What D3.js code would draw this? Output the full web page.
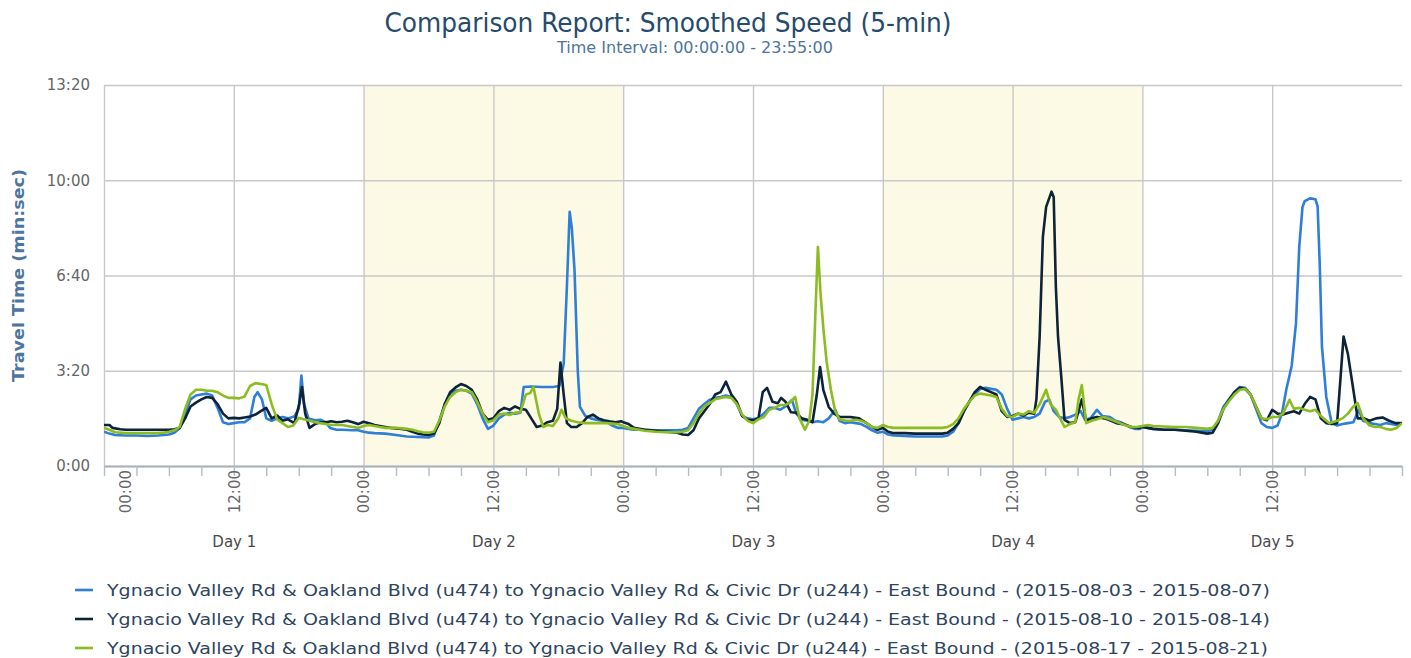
<!DOCTYPE html>
<html>
<head>
<meta charset="utf-8">
<script src="https://cdn.jsdelivr.net/npm/d3@7"></script>
<style>
    body { margin: 0; background: #ffffff; }
    svg { font-family: "DejaVu Sans", Verdana, sans-serif; }
</style>
</head>
<body>
<div id="chart"></div>
<script>

// ---- data (hour of day, travel time in seconds), one list per day ----
const dayNames = ["Day 1", "Day 2", "Day 3", "Day 4", "Day 5"];
const hourLabels = ["00:00", "12:00"];
const yTicks = [0, 200, 400, 600, 800];
const shadedDays = [1, 3];

const seriesNames = [
    "Ygnacio Valley Rd & Oakland Blvd (u474) to Ygnacio Valley Rd & Civic Dr (u244) - East Bound - (2015-08-03 - 2015-08-07)",
    "Ygnacio Valley Rd & Oakland Blvd (u474) to Ygnacio Valley Rd & Civic Dr (u244) - East Bound - (2015-08-10 - 2015-08-14)",
    "Ygnacio Valley Rd & Oakland Blvd (u474) to Ygnacio Valley Rd & Civic Dr (u244) - East Bound - (2015-08-17 - 2015-08-21)"
];
const seriesColors = ["#2f7ed8", "#0d233a", "#8bbc21"];

const week1 = [
    [[0,72],[0.5,68],[1,65],[2,64],[3,64],[4,63],[5,64],[6,66],[6.5,70],[7,80],[7.5,110],[8,140],[8.5,148],[9,150],[9.5,152],[10,148],[10.5,122],[11,92],[11.5,88],[12,90],[12.5,92],[13,92],[13.5,100],[13.9,145],[14.2,155],[14.6,140],[15,100],[15.5,95],[16,100],[16.5,103],[17,100],[17.6,104],[18,120],[18.25,190],[18.5,130],[18.9,100],[19.5,96],[20,97],[20.5,92],[20.9,80],[21.5,76],[22,76],[23,75],[23.5,75]],
    [[0,72],[0.5,70],[1,69],[2,68],[3,65],[4,62],[5,61],[6,60],[6.5,64],[7,95],[7.5,130],[8,150],[8.5,158],[9,160],[9.5,158],[10,152],[10.5,130],[11,100],[11.5,78],[12,85],[12.5,100],[13,108],[13.5,112],[14,110],[14.5,112],[14.8,166],[15.5,167],[16.5,166],[17.5,166],[18.1,168],[18.5,215],[18.8,380],[19.05,534],[19.25,500],[19.5,411],[19.8,200],[20,124],[20.5,105],[21,100],[21.5,97],[22,95],[22.5,92],[23,85],[23.5,80]],
    [[0,80],[0.5,78],[1,76],[2,76],[3,75],[4,75],[5,75],[5.5,76],[6,80],[6.5,100],[7,120],[7.5,130],[8,139],[8.5,143],[9,145],[9.5,148],[10,145],[10.5,130],[11,105],[11.5,100],[12,98],[12.5,101],[13,110],[13.5,122],[14,122],[14.5,118],[15,125],[15.6,139],[16,110],[16.5,97],[17,95],[17.5,92],[18,94],[18.5,92],[19,100],[19.6,118],[20,95],[20.5,90],[21,92],[21.5,90],[22,88],[22.5,82],[23,75],[23.5,70]],
    [[0,72],[0.5,66],[1,64],[2,63],[3,62],[4,62],[5,62],[5.5,62],[6,64],[6.5,72],[7,90],[7.5,115],[8,135],[8.5,150],[9,162],[9.5,164],[10,162],[10.5,160],[11,150],[11.5,120],[12,97],[12.5,100],[13,103],[13.5,100],[14,103],[14.5,110],[15,135],[15.4,139],[15.8,115],[16.3,103],[16.8,100],[17.3,103],[17.8,108],[18.3,115],[18.7,97],[19.2,100],[19.8,118],[20.3,105],[21,103],[21.5,95],[22,92],[22.8,82],[23.3,78],[23.8,78]],
    [[0,82],[0.5,80],[1,78],[2,76],[3,76],[4,75],[5,74],[6,73],[6.5,76],[7,95],[7.5,125],[8,140],[8.5,155],[9,166],[9.5,164],[10,150],[10.5,120],[11,90],[11.5,82],[12,80],[12.5,85],[12.9,110],[13.3,160],[13.8,210],[14.2,300],[14.5,460],[14.8,544],[15,556],[15.5,562],[16,560],[16.2,545],[16.4,420],[16.6,250],[17,145],[17.5,90],[18,85],[18.5,88],[19,90],[19.5,92],[20,118],[20.4,95],[21,90],[21.5,88],[22,86],[22.5,90],[23,88],[23.5,86],[24,90]]
];

const week2 = [
    [[0,86],[0.5,86],[0.8,80],[1.5,77],[2,76],[3,76],[4,76],[5,76],[6,76],[6.5,77],[7,80],[7.5,100],[8,125],[8.5,133],[9,140],[9.5,145],[10,143],[10.5,130],[11,110],[11.5,100],[12,101],[12.5,100],[13,102],[13.5,104],[14,108],[14.5,115],[15,122],[15.5,100],[16,106],[16.5,95],[17,98],[17.6,90],[18.05,130],[18.3,166],[18.6,110],[19,80],[19.5,88],[20,92],[20.5,92],[21,94],[21.5,92],[22,93],[22.5,95],[23,92],[23.5,88]],
    [[0,93],[0.5,90],[1,86],[1.5,84],[2,82],[2.5,80],[3,79],[3.5,78],[4,76],[4.5,72],[5,68],[5.5,66],[6,65],[6.5,68],[7,90],[7.5,130],[8,155],[8.5,165],[9,172],[9.5,168],[10,160],[10.5,140],[11,110],[11.5,97],[12,100],[12.5,115],[13,122],[13.5,118],[14,125],[14.5,120],[15,118],[15.5,100],[16,82],[16.5,85],[17,92],[17.5,95],[17.9,120],[18.2,217],[18.5,150],[18.8,90],[19.2,82],[19.7,82],[20.2,90],[20.7,103],[21.2,108],[21.7,100],[22.2,96],[22.7,94],[23.3,92],[23.8,94]],
    [[0,92],[0.5,88],[1,80],[2,76],[3,74],[4,72],[5,70],[5.5,66],[6,65],[6.5,75],[7,100],[7.5,115],[8,130],[8.5,150],[9,155],[9.5,177],[10,150],[10.5,135],[11,105],[11.5,97],[12,96],[12.5,100],[12.9,155],[13.3,164],[13.8,135],[14.3,132],[14.6,143],[15,135],[15.5,113],[16,112],[16.5,100],[17,97],[17.5,92],[17.9,150],[18.2,208],[18.5,160],[19,124],[19.5,110],[20,103],[21,103],[21.8,100],[22.5,90],[23,82],[23.5,76]],
    [[0,80],[0.5,72],[1,69],[2,69],[3,68],[4,68],[5,68],[5.5,68],[6,70],[6.5,78],[7,90],[7.5,115],[8,135],[8.5,155],[9,166],[9.5,160],[10,155],[10.5,150],[11,115],[11.5,103],[12,105],[12.5,110],[13,106],[13.5,112],[14,110],[14.2,140],[14.5,271],[14.8,481],[15.1,544],[15.6,576],[15.8,565],[16,376],[16.2,271],[16.5,187],[16.8,97],[17.3,90],[17.8,92],[18.4,140],[18.8,95],[19.3,100],[19.8,103],[20.5,100],[21,96],[21.6,90],[22.2,88],[23,82],[23.6,80]],
    [[0,82],[0.5,80],[1,78],[2,76],[3,76],[4,74],[5,72],[6,68],[6.5,70],[7,90],[7.5,120],[8,138],[8.5,155],[9,164],[9.5,162],[10,150],[10.5,125],[11,100],[11.5,96],[12,118],[12.5,110],[13,108],[13.5,112],[14,115],[14.5,110],[15,130],[15.5,145],[16,140],[16.5,100],[17,90],[17.5,88],[18,90],[18.2,150],[18.6,272],[19,235],[19.5,160],[19.9,100],[20.5,100],[21,95],[21.6,100],[22.2,102],[22.8,95],[23.4,90],[24,90]]
];

const week3 = [
    [[0,80],[0.5,76],[1,71],[2,69],[3,69],[4,69],[5,69],[5.5,70],[6,72],[6.5,75],[7,82],[7.5,120],[8,150],[8.5,160],[9,160],[9.5,158],[10,158],[10.5,155],[11,148],[11.5,143],[12,143],[12.5,142],[13,146],[13.5,168],[14,174],[14.5,172],[15,170],[15.5,130],[16,98],[16.5,90],[17,82],[17.5,85],[18,101],[18.5,98],[19,95],[19.5,92],[20,90],[20.5,88],[21,86],[22,86],[22.5,84],[23,82],[23.5,80]],
    [[0,84],[0.5,86],[1,84],[1.5,82],[2,80],[3,80],[4,78],[4.5,76],[5,73],[5.5,71],[6,70],[6.5,72],[7,95],[7.5,125],[8,145],[8.5,155],[9,160],[9.5,158],[10,155],[10.5,135],[11,110],[11.5,92],[12,96],[12.5,108],[13,110],[13.5,107],[14,112],[14.5,113],[15,150],[15.4,153],[15.7,166],[16.2,110],[16.6,82],[17,86],[17.5,84],[18,100],[18.3,118],[18.7,100],[19.2,95],[19.8,92],[20.5,90],[21.5,90],[22.5,90],[23.5,88]],
    [[0,84],[0.5,80],[1,78],[2,74],[3,72],[4,71],[5,71],[5.5,72],[6,75],[6.5,90],[7,110],[7.5,125],[8,132],[8.5,140],[9,143],[9.5,145],[10,143],[10.5,130],[11,108],[11.5,95],[12,90],[12.5,98],[13,103],[13.5,118],[14,122],[14.5,128],[15,128],[15.5,135],[15.9,145],[16.3,100],[16.8,76],[17.2,95],[17.5,150],[17.8,340],[18,460],[18.25,360],[18.5,290],[18.8,220],[19.2,160],[19.6,115],[20,98],[20.6,95],[21,95],[21.5,97],[22,95],[22.5,90],[23,82],[23.5,80]],
    [[0,86],[0.5,82],[1,80],[2,80],[3,80],[4,80],[5,80],[5.5,80],[6,82],[6.5,88],[7,100],[7.5,120],[8,135],[8.5,148],[9,152],[9.5,150],[10,148],[10.5,145],[11,120],[11.5,105],[12,103],[12.5,110],[13,108],[13.5,115],[14,112],[14.5,130],[15.1,160],[15.5,130],[16,118],[16.5,95],[16.8,82],[17.3,88],[17.8,92],[18.1,140],[18.4,170],[18.8,90],[19.3,95],[19.8,98],[20.4,103],[21,98],[21.9,90],[22.5,85],[23,82],[23.5,82]],
    [[0,84],[0.5,86],[1,84],[2,83],[3,82],[4,82],[5,80],[6,78],[6.5,80],[7,95],[7.5,120],[8,136],[8.5,150],[9,160],[9.5,162],[10,150],[10.5,125],[11,100],[11.5,98],[12,103],[12.5,103],[13,110],[13.6,139],[14,120],[14.5,122],[15,118],[15.5,115],[16,118],[16.5,105],[17,95],[17.3,90],[18,95],[18.5,100],[19,110],[19.5,125],[19.9,132],[20.4,100],[21,85],[21.5,82],[22,82],[22.5,78],[23,76],[23.5,80],[24,90]]
];

const allWeeks = [week1, week2, week3];

drawChart();

// seconds -> m:ss
function formatTime(s) {
    return Math.floor(s / 60) + ":" + String(s % 60).padStart(2, "0");
}

// put the five days end to end, hours counted from the first midnight
function flattenDays(days) {
    let points = [];
    days.forEach((day, i) => {
        day.forEach(d => points.push([i * 24 + d[0], d[1]]));
    });
    return points;
}

function drawChart() {

    let margin = {top: 85, right: 9, bottom: 192, left: 104};
    let width = 1411 - margin.left - margin.right;
    let height = 658 - margin.top - margin.bottom;

    let root = d3.select("#chart").append("svg")
        .attr("width", 1411)
        .attr("height", 658);

    // titles
    root.append("text")
        .attr("x", 668).attr("y", 32)
        .attr("text-anchor", "middle")
        .attr("textLength", 567).attr("lengthAdjust", "spacingAndGlyphs")
        .style("font-size", "26px")
        .style("fill", "#274b6d")
        .text("Comparison Report: Smoothed Speed (5-min)");

    root.append("text")
        .attr("x", 695).attr("y", 53)
        .attr("text-anchor", "middle")
        .attr("textLength", 276).attr("lengthAdjust", "spacingAndGlyphs")
        .style("font-size", "16px")
        .style("fill", "#4d759e")
        .text("Time Interval: 00:00:00 - 23:55:00");

    let svg = root.append("g")
        .attr("transform", "translate(" + margin.left + "," + margin.top + ")");

    // scales
    let x = d3.scaleLinear().domain([0, 120]).range([0, width]);
    let y = d3.scaleLinear().domain([0, 800]).range([height, 0]);

    // shaded days
    svg.selectAll(".band")
        .data(shadedDays)
        .enter().append("rect")
        .attr("class", "band")
        .attr("x", d => x(d * 24))
        .attr("width", d => x(d * 24 + 24) - x(d * 24))
        .attr("y", 0)
        .attr("height", height)
        .attr("fill", "#fcfae4");

    // horizontal grid + y labels
    let yAxis = svg.append("g")
        .call(d3.axisLeft(y).tickValues(yTicks).tickSize(-width).tickPadding(14).tickFormat(formatTime));
    yAxis.select(".domain").remove();
    yAxis.selectAll("line").attr("stroke", "#c8c8c8").attr("stroke-width", 1.4);
    yAxis.selectAll("text")
        .style("font-size", "15px")
        .style("fill", "#666666")
        .style("font-family", "DejaVu Sans");

    // vertical grid every 12 hours
    let xGrid = svg.append("g")
        .attr("transform", "translate(0," + height + ")")
        .call(d3.axisBottom(x).tickValues(d3.range(0, 120, 12)).tickSize(-height).tickFormat(""));
    xGrid.select(".domain").remove();
    xGrid.selectAll("line").attr("stroke", "#c8c8c8").attr("stroke-width", 1.4);

    // y axis title
    root.append("text")
        .attr("transform", "translate(24," + (margin.top + height / 2) + ") rotate(-90)")
        .attr("text-anchor", "middle")
        .attr("textLength", 213).attr("lengthAdjust", "spacingAndGlyphs")
        .style("font-size", "16px")
        .style("font-weight", "bold")
        .style("fill", "#4d759e")
        .text("Travel Time (min:sec)");

    // lines
    let line = d3.line()
        .x(d => x(d[0]))
        .y(d => y(d[1]));

    svg.append("defs").append("clipPath")
        .attr("id", "clip")
        .append("rect")
        .attr("width", width)
        .attr("height", height);

    svg.append("g")
        .attr("clip-path", "url(#clip)")
        .selectAll(".series")
        .data(allWeeks)
        .enter().append("path")
        .attr("class", "series")
        .attr("d", d => line(flattenDays(d)))
        .attr("fill", "none")
        .attr("stroke", (d, i) => seriesColors[i])
        .attr("stroke-width", 2.6)
        .attr("stroke-linejoin", "round");

    // x axis: minor ticks every 3 hours
    let xAxis = svg.append("g")
        .attr("transform", "translate(0," + height + ")")
        .call(d3.axisBottom(x).tickValues(d3.range(0, 121, 3)).tickSize(10).tickSizeOuter(0).tickFormat(""));
    xAxis.select(".domain").attr("stroke", "#a9b2bb").attr("stroke-width", 2);
    xAxis.selectAll("line").attr("stroke", "#b4bcc4").attr("stroke-width", 1.4);

    // hour labels, rotated
    let hourAxis = svg.append("g")
        .attr("transform", "translate(0," + height + ")")
        .call(d3.axisBottom(x).tickValues(d3.range(0, 120, 12)).tickSize(0)
            .tickFormat(h => hourLabels[(h / 12) % 2]));
    hourAxis.select(".domain").remove();
    hourAxis.selectAll("text")
        .attr("y", 0)
        .attr("x", -4)
        .attr("dy", ".35em")
        .attr("transform", d => (d === 0 ? "translate(21,0) " : "") + "rotate(-90)")
        .style("text-anchor", "end")
        .style("font-size", "15px")
        .style("fill", "#666666")
        .style("font-family", "DejaVu Sans");

    // day labels
    let dayAxis = svg.append("g")
        .attr("transform", "translate(0," + (height + 67) + ")")
        .call(d3.axisBottom(x).tickValues(dayNames.map((d, i) => i * 24 + 12)).tickSize(0)
            .tickFormat((h, i) => dayNames[i]));
    dayAxis.select(".domain").remove();
    dayAxis.selectAll("text")
        .style("font-size", "15px")
        .style("fill", "#4a4a4a")
        .style("font-family", "DejaVu Sans");

    // legend
    let legend = root.append("g")
        .selectAll(".legend-item")
        .data(seriesNames)
        .enter().append("g")
        .attr("class", "legend-item")
        .attr("transform", (d, i) => "translate(0," + (590 + i * 29) + ")");

    legend.append("line")
        .attr("x1", 75).attr("x2", 93)
        .attr("stroke", (d, i) => seriesColors[i])
        .attr("stroke-width", 2.6);

    legend.append("text")
        .attr("x", 107)
        .attr("dy", ".35em")
        .attr("textLength", (d, i) => i === 2 ? 1161 : 1163)
        .attr("lengthAdjust", "spacingAndGlyphs")
        .style("font-size", "16px")
        .style("fill", "#2e4460")
        .text(d => d);
}

</script>
</body>
</html>
